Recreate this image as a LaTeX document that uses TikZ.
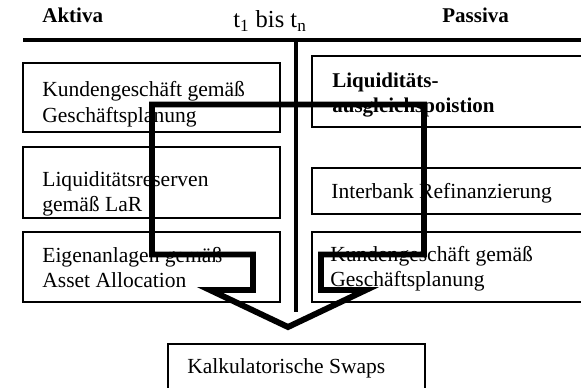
\documentclass[tikz,border=0pt]{standalone}
\usepackage{fontspec}
\setmainfont{Liberation Serif}
\tikzset{
  box/.style={draw, line width=1.15pt},
  rule/.style={line width=2.4pt},
  flow/.style={line width=3.4pt},
  txt/.style={align=left, inner sep=0pt, anchor=base west, font=\fontsize{12.3}{14.6}\selectfont},
  head/.style={txt, font=\fontsize{12}{14.6}\selectfont\bfseries},
}
\begin{document}
\begin{tikzpicture}[x=0.5714pt, y=-0.5714pt]
\clip (0,0) rectangle (581,388);
% Kopfzeile
\node[head] (aktiva) at (42,23) {Aktiva};
\node[txt, font=\fontsize{14}{16}\selectfont] (zeit) at (233,28) {t\textsubscript{1} bis t\textsubscript{n}};
\node[head] (passiva) at (442,23) {Passiva};
\draw[rule] (23,40) -- (581,40);
\draw[rule] (296,40) -- (296,312);
% Aktivseite (Anker = Grundlinie der letzten Zeile)
\draw[box] (23,63) rectangle (280,132);
\draw[box] (23,147) rectangle (280,218);
\draw[box] (23,232) rectangle (280,302);
\node[txt] (kundeA) at (42,122.5) {Kundengeschäft gemäß\\Geschäftsplanung};
\node[txt] (reserve) at (42,212) {Liquiditätsreserven\\gemäß LaR};
\node[txt] (eigen) at (42,288) {Eigenanlagen gemäß\\Asset Allocation};
% Passivseite
\draw[box] (312,56) rectangle (600,127);
\draw[box] (312,168) rectangle (600,214);
\draw[box] (312,232) rectangle (600,302);
\node[head] (ausgleich) at (332,113) {Liquiditäts-\\ausgleichspoistion};
\node[txt] (interbank) at (331,199) {Interbank Refinanzierung};
\node[txt] (kundeP) at (330,287) {Kundengeschäft gemäß\\Geschäftsplanung};
% Swaps
\draw[box] (168,344) rectangle (425,420);
\node[txt] (swaps) at (187,374) {Kalkulatorische Swaps};
% Pfeil
\draw[flow] (152,104.5) -- (424,104.5) -- (424,254.5) -- (321,254.5) -- (321,290)
  -- (366,290) -- (288,327) -- (210,290) -- (253,290) -- (253,254.5) -- (152,254.5) -- cycle;
\end{tikzpicture}
\end{document}
